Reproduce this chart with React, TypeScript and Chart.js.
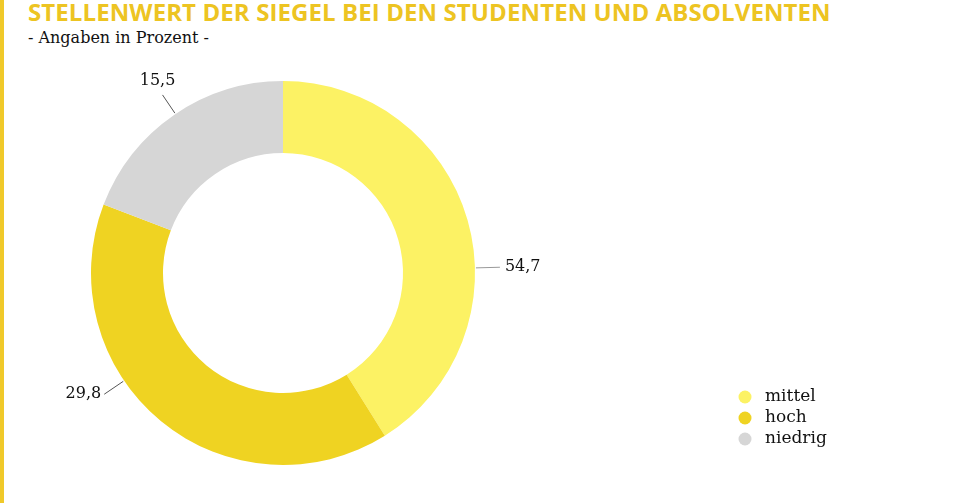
import React, { useEffect, useRef } from "react";
import { Chart, registerables } from "chart.js";

Chart.register(...registerables);

const categories = ["mittel", "hoch", "niedrig"];
// printed values (labels on the chart)
const printedValues = ["54,7", "29,8", "15,5"];
// slice sizes as drawn in the reference (share of the full circle, in %)
const drawnShares = [41.1, 39.7, 19.2];
const colors = ["#FCF264", "#EFD322", "#D6D6D6"];

const TITLE = "STELLENWERT DER SIEGEL BEI DEN STUDENTEN UND ABSOLVENTEN";
const SUBTITLE = "- Angaben in Prozent -";

const SERIF = "'DejaVu Serif', serif";

const labelPlugin = {
  id: "leaderLabels",
  afterDatasetsDraw(chart: any, _args: any, opts: any) {
    const ctx = chart.ctx;
    const meta = chart.getDatasetMeta(0);
    meta.data.forEach((arc: any, i: number) => {
      const p = arc.getProps(["x", "y", "startAngle", "endAngle", "outerRadius"], true);
      const cfg = opts.labels[i];
      const a = p.startAngle + cfg.frac * (p.endAngle - p.startAngle);
      const r0 = p.outerRadius + 1;
      const r1 = p.outerRadius + cfg.len;
      const x0 = p.x + Math.cos(a) * r0;
      const y0 = p.y + Math.sin(a) * r0;
      const x1 = p.x + Math.cos(a) * r1;
      const y1 = p.y + Math.sin(a) * r1;
      ctx.save();
      ctx.strokeStyle = cfg.lineColor;
      ctx.lineWidth = 1;
      ctx.beginPath();
      ctx.moveTo(x0, y0);
      ctx.lineTo(x1, y1);
      ctx.stroke();
      ctx.fillStyle = "#111";
      ctx.font = "16px " + SERIF;
      ctx.textBaseline = "middle";
      let tx = x1, ty = y1;
      if (cfg.pos === "right") { ctx.textAlign = "left"; tx = x1 + 5; }
      else if (cfg.pos === "left") { ctx.textAlign = "right"; tx = x1 - 3; }
      else { ctx.textAlign = "center"; tx = x1 - 5; ty = y1 - 14; }
      ctx.fillText(printedValues[i], tx, ty);
      ctx.restore();
    });
  },
};

const legendPlugin = {
  id: "customLegend",
  afterDraw(chart: any, _args: any, opts: any) {
    const ctx = chart.ctx;
    ctx.save();
    categories.forEach((c, i) => {
      const y = opts.y + i * opts.step;
      ctx.fillStyle = colors[i];
      ctx.beginPath();
      ctx.arc(opts.x, y, 6.5, 0, Math.PI * 2);
      ctx.fill();
      ctx.fillStyle = "#111";
      ctx.font = "17px " + SERIF;
      ctx.textAlign = "left";
      ctx.textBaseline = "middle";
      ctx.fillText(c, opts.x + 20, y);
    });
    ctx.restore();
  },
};

export default function App() {
  const ref = useRef<HTMLCanvasElement>(null);
  useEffect(() => {
    if (!ref.current) return;
    const chart = new Chart(ref.current, {
      type: "doughnut",
      data: {
        labels: categories,
        datasets: [
          {
            data: drawnShares,
            backgroundColor: colors,
            borderWidth: 0,
          },
        ],
      },
      options: {
        animation: false,
        responsive: false,
        cutout: "62.5%",
        layout: { padding: { top: 81, bottom: 38, left: 91, right: 491 } },
        plugins: {
          legend: { display: false },
          tooltip: { enabled: false },
          leaderLabels: {
            labels: [
              { frac: 0.598, len: 25, pos: "right", lineColor: "#999" },
              { frac: 0.615, len: 24, pos: "left", lineColor: "#555" },
              { frac: 0.507, len: 23, pos: "top", lineColor: "#555" },
            ],
          },
          customLegend: { x: 745, y: 397, step: 21 },
        } as any,
      },
      plugins: [labelPlugin, legendPlugin],
    });
    return () => chart.destroy();
  }, []);

  return (
    <div style={{ position: "absolute", left: 0, top: 0, width: 966, height: 503, background: "#fff", overflow: "hidden" }}>
      <div style={{ position: "absolute", left: 0, top: 0, width: 4, height: 503, background: "#F0C92A" }} />
      <div
        style={{
          position: "absolute",
          left: 28,
          top: -2,
          fontFamily: "'Open Sans', sans-serif",
          fontWeight: 700,
          fontSize: 24,
          lineHeight: "28px",
          letterSpacing: "0.1px",
          color: "#EDC422",
          whiteSpace: "nowrap",
        }}
      >
        {TITLE}
      </div>
      <div
        style={{
          position: "absolute",
          left: 28,
          top: 28,
          fontFamily: SERIF,
          fontSize: 16,
          lineHeight: "20px",
          color: "#111",
          whiteSpace: "nowrap",
        }}
      >
        {SUBTITLE}
      </div>
      <canvas ref={ref} width={966} height={503} style={{ position: "absolute", left: 0, top: 0 }} />
    </div>
  );
}
